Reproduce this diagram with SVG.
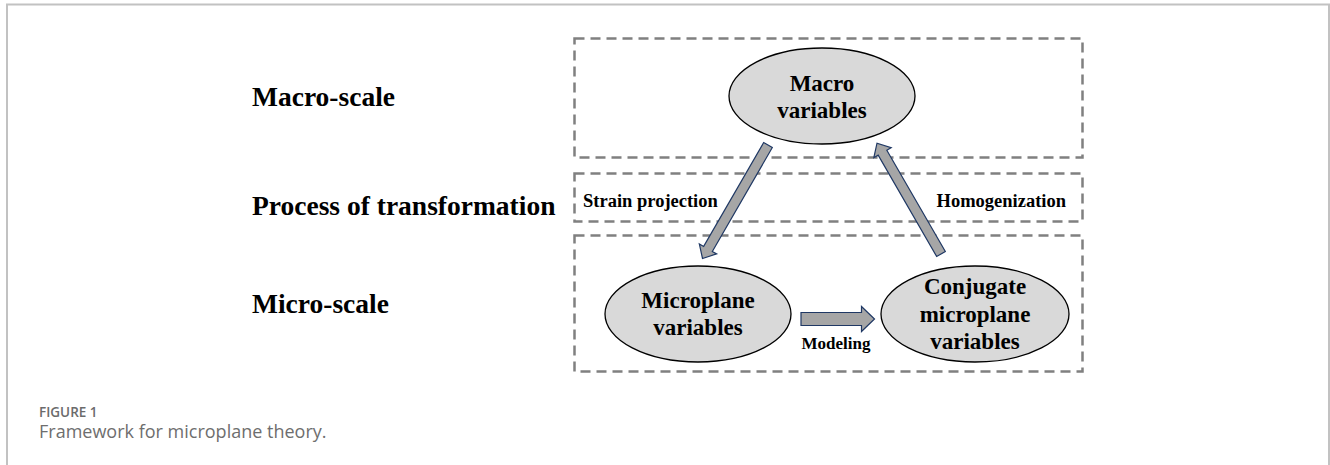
<svg xmlns="http://www.w3.org/2000/svg" width="1330" height="465" viewBox="0 0 1330 465">
<style>
.frame{fill:none;stroke:#c2c2c2;stroke-width:2}
.zone{fill:none;stroke:#808080;stroke-width:2.5;stroke-dasharray:10 6}
.node{fill:#d9d9d9;stroke:#000;stroke-width:1.3}
.nt{font-family:"Liberation Serif","Times New Roman",serif;font-weight:bold;font-size:23px;fill:#000;text-anchor:middle}
.lab{font-family:"Liberation Serif","Times New Roman",serif;font-weight:bold;font-size:27.5px;fill:#000}
.el{font-family:"Liberation Serif","Times New Roman",serif;font-weight:bold;font-size:18.5px;fill:#000}
.arr{fill:#a6a6a6;stroke:#1f3864;stroke-width:1.2;stroke-linejoin:miter}
.cap1{font-family:"Open Sans","Noto Sans",sans-serif;font-weight:600;font-size:13.5px;fill:#6b6b6b}
.cap2{font-family:"Open Sans","Noto Sans",sans-serif;font-weight:400;font-size:18px;fill:#6e6e6e}
</style>
<rect width="1330" height="465" fill="#fff"/>
<path class="frame" d="M7,465 V4.5 H1329 V465"/>
<g id="zones">
<rect class="zone" x="574.5" y="38.5" width="508" height="119"/>
<rect class="zone" x="574.5" y="173.5" width="508" height="48"/>
<rect class="zone" x="574.5" y="235.5" width="508" height="136"/>
</g>
<g id="scale-labels">
<text class="lab" x="252" y="106">Macro-scale</text>
<text class="lab" x="252" y="215">Process of transformation</text>
<text class="lab" x="252" y="313">Micro-scale</text>
</g>
<g id="macro">
<ellipse class="node" cx="822" cy="96" rx="93" ry="48"/>
<text class="nt" x="822" y="91">Macro</text>
<text class="nt" x="822" y="118">variables</text>
</g>
<g id="microplane">
<ellipse class="node" cx="698" cy="314" rx="93" ry="48"/>
<text class="nt" x="698" y="308">Microplane</text>
<text class="nt" x="698" y="335">variables</text>
</g>
<g id="conjugate">
<ellipse class="node" cx="975" cy="314" rx="94" ry="48"/>
<text class="nt" x="975" y="294">Conjugate</text>
<text class="nt" x="975" y="322">microplane</text>
<text class="nt" x="975" y="349">variables</text>
</g>
<g id="connectors">
<path class="arr" transform="translate(768,145) rotate(120)" d="M0,-5 H120 V-10 L131,0 L120,10 V5 H0 Z"/>
<path class="arr" transform="translate(941,254) rotate(-120)" d="M0,-5 H117 V-10 L128,0 L117,10 V5 H0 Z"/>
<path class="arr" d="M801,312.5 H861.5 V306.5 L874.5,319 L861.5,331.5 V325.5 H801 Z"/>
<text class="el" x="583" y="207">Strain projection</text>
<text class="el" x="1066" y="207" text-anchor="end">Homogenization</text>
<text class="el" x="836" y="349" text-anchor="middle" style="font-size:17px">Modeling</text>
</g>
<g id="caption">
<text class="cap1" x="39" y="417">FIGURE 1</text>
<text class="cap2" x="39" y="438">Framework for microplane theory.</text>
</g>
</svg>
